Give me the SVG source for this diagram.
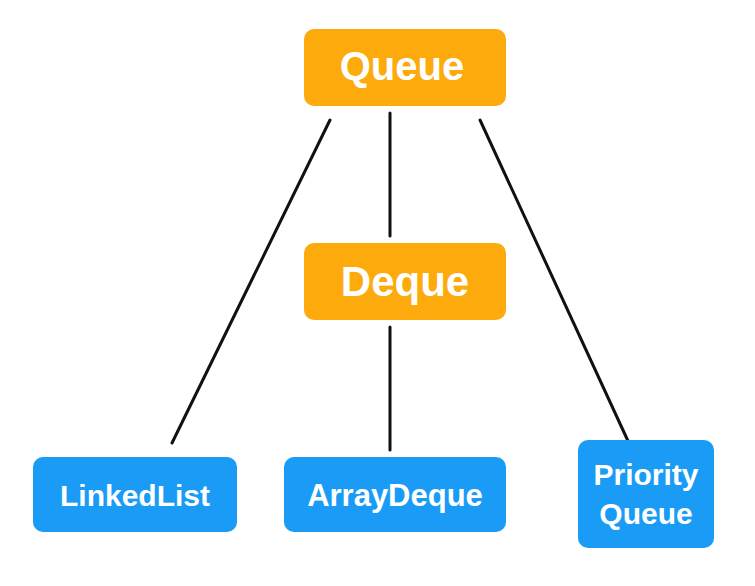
<svg xmlns="http://www.w3.org/2000/svg" width="755" height="586" viewBox="0 0 755 586">
<style>
.o{fill:#FDAA0C}
.b{fill:#1A9CF6}
.t{fill:#fff;font-family:"Liberation Sans",Arial,sans-serif;font-weight:bold;text-anchor:middle}
.c{stroke:#111;stroke-width:3;stroke-linecap:round;fill:none}
</style>
<rect width="755" height="586" fill="#fff"/>
<g id="connectors">
<line class="c" x1="330" y1="120" x2="172" y2="443"/>
<line class="c" x1="390" y1="113" x2="390" y2="236"/>
<line class="c" x1="390" y1="327" x2="390" y2="450"/>
<line class="c" x1="480" y1="120" x2="628" y2="441"/>
</g>
<g id="queue">
<rect class="o" x="304" y="29" width="202" height="77" rx="10"/>
<text class="t" x="402" y="80" font-size="40">Queue</text>
</g>
<g id="deque">
<rect class="o" x="304" y="243" width="202" height="77" rx="10"/>
<text class="t" x="405" y="296" font-size="42">Deque</text>
</g>
<g id="linkedlist">
<rect class="b" x="33" y="457" width="204" height="75" rx="10"/>
<text class="t" x="135" y="506" font-size="30">LinkedList</text>
</g>
<g id="arraydeque">
<rect class="b" x="284" y="457" width="222" height="75" rx="10"/>
<text class="t" x="395" y="506" font-size="31">ArrayDeque</text>
</g>
<g id="priorityqueue">
<rect class="b" x="578" y="440" width="136" height="108" rx="10"/>
<text class="t" x="646" y="485" font-size="30">Priority</text>
<text class="t" x="646" y="524" font-size="30">Queue</text>
</g>
</svg>
